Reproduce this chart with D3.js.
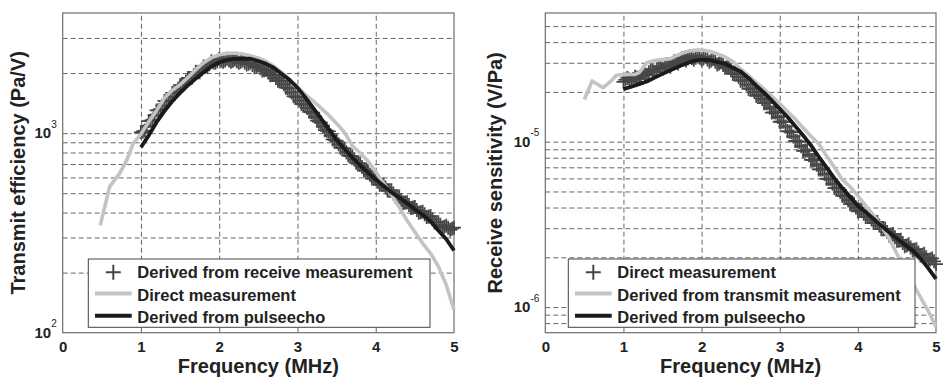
<!DOCTYPE html>
<html><head><meta charset="utf-8">
<script src="https://cdn.jsdelivr.net/npm/d3@7"></script>
<style>
body{margin:0;background:#fff}
svg{display:block}
text{font-family:"Liberation Sans",Arial,sans-serif;fill:#222}
</style>
</head><body>
<svg id="c" width="943" height="378"></svg>
<script>
// ---------- DATA ----------
const xTickLabels = ["0","1","2","3","4","5"];
const xTicks = [0,1,2,3,4,5];
const xGrid = [1,2,3,4];

// frequency samples of the "+" series (MHz), same in both panels
const recvFreq = [1.000,1.025,1.050,1.075,1.100,1.125,1.150,1.175,1.200,1.225,1.250,1.275,1.300,1.325,1.350,1.375,1.400,1.425,1.450,1.475,
  1.500,1.525,1.550,1.575,1.600,1.625,1.650,1.675,1.700,1.725,1.750,1.775,1.800,1.825,1.850,1.875,1.900,1.925,1.950,1.975,
  2.000,2.025,2.050,2.075,2.100,2.125,2.150,2.175,2.200,2.225,2.250,2.275,2.300,2.325,2.350,2.375,2.400,2.425,2.450,2.475,
  2.500,2.525,2.550,2.575,2.600,2.625,2.650,2.675,2.700,2.725,2.750,2.775,2.800,2.825,2.850,2.875,2.900,2.925,2.950,2.975,
  3.000,3.025,3.050,3.075,3.100,3.125,3.150,3.175,3.200,3.225,3.250,3.275,3.300,3.325,3.350,3.375,3.400,3.425,3.450,3.475,
  3.500,3.525,3.550,3.575,3.600,3.625,3.650,3.675,3.700,3.725,3.750,3.775,3.800,3.825,3.850,3.875,3.900,3.925,3.950,3.975,
  4.000,4.025,4.050,4.075,4.100,4.125,4.150,4.175,4.200,4.225,4.250,4.275,4.300,4.325,4.350,4.375,4.400,4.425,4.450,4.475,
  4.500,4.525,4.550,4.575,4.600,4.625,4.650,4.675,4.700,4.725,4.750,4.775,4.800,4.825,4.850,4.875,4.900,4.925,4.950,4.975,5.000];

// Left panel: Transmit efficiency (Pa/V)
const leftGridY = [200,300,400,500,600,700,800,900,1000,2000,3000];
const leftTickY = [100,1000];
const leftTickExp = ["2","3"];
const leftLegend = ["Derived from receive measurement","Direct measurement","Derived from pulseecho"];

const leftRecvVal = [1010,1020,1030,1085,1150,1155,1170,1228,1300,1302,1320,1375,1450,1445,1460,1518,1590,1592,1610,1668,
  1740,1742,1760,1815,1890,1882,1890,1950,2030,2018,2020,2085,2160,2150,2150,2212,2290,2262,2250,2290,
  2350,2305,2280,2313,2360,2313,2280,2305,2340,2292,2250,2278,2310,2258,2210,2230,2250,2198,2140,2160,
  2180,2115,2060,2065,2080,2013,1950,1956,1960,1892,1830,1828,1830,1758,1690,1680,1670,1600,1530,1522,
  1510,1455,1400,1395,1390,1335,1280,1272,1265,1208,1155,1142,1130,1082,1035,1028,1020,972,930,922,
  915,879,845,841,838,803,772,768,766,737,710,707,705,677,650,648,647,618,592,591,
  590,571,552,552,553,534,516,516,517,498,481,481,481,463,447,448,450,436,422,424,
  426,412,399,401,404,392,380,382,384,370,357,357,358,347,337,340,344,336,328,332,336];

const leftDirectFreq = [0.48,0.6,0.73,0.82,0.9,1.0,1.1,1.2,1.3,1.4,1.5,1.6,1.7,1.8,1.9,2.0,2.1,2.2,2.3,2.4,2.5,2.6,2.7,2.8,2.9,
  3.0,3.1,3.2,3.3,3.4,3.5,3.6,3.7,3.8,3.9,4.0,4.1,4.2,4.3,4.4,4.5,4.6,4.7,4.8,4.9,5.0];
const leftDirectVal = [345,540,630,735,885,990,1140,1300,1500,1640,1750,1900,2080,2250,2390,2470,2510,2520,2490,2440,2380,2290,2160,2010,1860,
  1695,1560,1450,1335,1230,1118,1010,865,795,725,640,561,492,425,365,320,280,250,215,174,130];

const leftPulseFreq = [1.0,1.1,1.2,1.3,1.4,1.5,1.6,1.7,1.8,1.9,2.0,2.1,2.2,2.3,2.4,2.5,2.6,2.7,2.8,2.9,
  3.0,3.1,3.2,3.3,3.4,3.5,3.6,3.7,3.8,3.9,4.0,4.1,4.2,4.3,4.4,4.5,4.6,4.7,4.8,4.9,5.0];
const leftPulseVal = [850,975,1135,1290,1445,1590,1735,1875,2020,2160,2260,2330,2355,2365,2360,2300,2225,2120,1980,1845,
  1690,1510,1340,1185,1045,923,835,755,690,635,585,545,505,475,445,415,390,362,325,295,258];

// Right panel: Receive sensitivity (V/Pa)
const rightGridY = [8e-7,9e-7,1e-6,2e-6,3e-6,4e-6,5e-6,6e-6,7e-6,8e-6,9e-6,1e-5,2e-5,3e-5,4e-5,5e-5];
const rightTickY = [1e-6,1e-5];
const rightTickExp = ["-6","-5"];
const rightLegend = ["Direct measurement","Derived from transmit measurement","Derived from pulseecho"];

const rightRecvVal = [2.30e-5,2.365e-5,2.43e-5,2.375e-5,2.32e-5,2.39e-5,2.47e-5,2.435e-5,2.40e-5,2.505e-5,2.61e-5,2.57e-5,2.53e-5,2.63e-5,2.74e-5,2.685e-5,2.64e-5,2.74e-5,2.85e-5,2.795e-5,
  2.75e-5,2.845e-5,2.95e-5,2.895e-5,2.84e-5,2.95e-5,3.06e-5,3.015e-5,2.97e-5,3.085e-5,3.20e-5,3.15e-5,3.10e-5,3.19e-5,3.29e-5,3.205e-5,3.13e-5,3.215e-5,3.31e-5,3.215e-5,
  3.13e-5,3.19e-5,3.26e-5,3.145e-5,3.04e-5,3.10e-5,3.17e-5,3.045e-5,2.93e-5,2.975e-5,3.02e-5,2.905e-5,2.80e-5,2.815e-5,2.84e-5,2.70e-5,2.57e-5,2.58e-5,2.59e-5,2.46e-5,
  2.34e-5,2.34e-5,2.35e-5,2.215e-5,2.09e-5,2.095e-5,2.10e-5,1.995e-5,1.89e-5,1.905e-5,1.91e-5,1.81e-5,1.71e-5,1.71e-5,1.71e-5,1.605e-5,1.50e-5,1.505e-5,1.50e-5,1.41e-5,
  1.32e-5,1.32e-5,1.32e-5,1.235e-5,1.16e-5,1.15e-5,1.14e-5,1.075e-5,1.01e-5,1.005e-5,1.00e-5,9.4e-6,8.8e-6,8.84e-6,8.84e-6,8.29e-6,7.76e-6,7.75e-6,7.72e-6,7.25e-6,
  6.8e-6,6.8e-6,6.8e-6,6.37e-6,5.97e-6,5.95e-6,5.92e-6,5.57e-6,5.24e-6,5.25e-6,5.25e-6,4.97e-6,4.71e-6,4.70e-6,4.69e-6,4.43e-6,4.19e-6,4.21e-6,4.22e-6,4.00e-6,
  3.79e-6,3.82e-6,3.86e-6,3.67e-6,3.50e-6,3.52e-6,3.55e-6,3.38e-6,3.22e-6,3.24e-6,3.27e-6,3.11e-6,2.96e-6,2.97e-6,2.98e-6,2.84e-6,2.71e-6,2.74e-6,2.77e-6,2.64e-6,
  2.52e-6,2.53e-6,2.55e-6,2.44e-6,2.33e-6,2.36e-6,2.40e-6,2.29e-6,2.20e-6,2.22e-6,2.24e-6,2.14e-6,2.05e-6,2.07e-6,2.10e-6,2.00e-6,1.92e-6,1.94e-6,1.97e-6,1.89e-6,1.82e-6];

const rightTransFreq = [0.5,0.6,0.74,0.85,0.91,1.02,1.15,1.2,1.3,1.4,1.5,1.6,1.7,1.8,1.9,2.0,2.1,2.2,2.3,2.4,2.5,2.6,2.7,2.8,2.9,
  3.0,3.1,3.2,3.3,3.4,3.5,3.6,3.7,3.8,3.9,4.0,4.1,4.2,4.3,4.4,4.5,4.6,4.7,4.8,4.9,5.0];
const rightTransVal = [1.80e-5,2.33e-5,2.12e-5,2.35e-5,2.52e-5,2.55e-5,2.55e-5,2.62e-5,3.00e-5,3.10e-5,3.14e-5,3.18e-5,3.35e-5,3.50e-5,3.57e-5,3.58e-5,3.52e-5,3.40e-5,3.25e-5,3.05e-5,2.75e-5,2.52e-5,2.28e-5,2.08e-5,1.88e-5,
  1.70e-5,1.52e-5,1.37e-5,1.21e-5,1.08e-5,9.7e-6,8.2e-6,7.0e-6,5.9e-6,5.35e-6,4.7e-6,4.1e-6,3.6e-6,3.1e-6,2.6e-6,2.1e-6,1.7e-6,1.4e-6,1.15e-6,9.5e-7,7.6e-7];

const rightPulseFreq = [1.0,1.1,1.2,1.3,1.4,1.5,1.6,1.7,1.8,1.9,2.0,2.1,2.2,2.3,2.4,2.5,2.6,2.7,2.8,2.9,
  3.0,3.1,3.2,3.3,3.4,3.5,3.6,3.7,3.8,3.9,4.0,4.1,4.2,4.3,4.4,4.5,4.6,4.7,4.8,4.9,5.0];
const rightPulseVal = [2.08e-5,2.15e-5,2.23e-5,2.31e-5,2.44e-5,2.57e-5,2.70e-5,2.84e-5,2.97e-5,3.08e-5,3.13e-5,3.11e-5,3.04e-5,2.96e-5,2.80e-5,2.66e-5,2.43e-5,2.18e-5,1.98e-5,1.77e-5,
  1.58e-5,1.41e-5,1.24e-5,1.09e-5,9.5e-6,8.1e-6,7.0e-6,6.0e-6,5.25e-6,4.65e-6,4.1e-6,3.75e-6,3.42e-6,3.1e-6,2.83e-6,2.6e-6,2.39e-6,2.2e-6,1.97e-6,1.72e-6,1.48e-6];

// ---------- DRAW ----------
const svg = d3.select("#c");
const zip = (a,b) => a.map((v,i)=>[v,b[i]]);
const C_GRAY = "#c3c3c3", C_BLACK = "#1b1b1b", C_CROSS = "#474747";
const plusPath = s => `M${-s},0H${s}M0,${-s}V${s}`;

function panel(cfg){
  const x = d3.scaleLinear().domain([0,5]).range([cfg.x0,cfg.x1]);
  const y = d3.scaleLog().domain(cfg.yDomain).range([cfg.y1,cfg.y0]);
  const g = svg.append("g");
  const H = cfg.y1 - cfg.y0, W = cfg.x1 - cfg.x0;

  g.append("g").attr("transform",`translate(0,${cfg.y1})`)
    .call(d3.axisBottom(x).tickValues(xGrid).tickSize(-H).tickFormat(""))
    .call(s=>{s.select(".domain").remove();
      s.selectAll("line").attr("stroke","#666").attr("stroke-width",1).attr("stroke-dasharray","5,3");});
  g.append("g").attr("transform",`translate(${cfg.x0},0)`)
    .call(d3.axisLeft(y).tickValues(cfg.gridY).tickSize(-W).tickFormat(""))
    .call(s=>{s.select(".domain").remove();
      s.selectAll("line").attr("stroke","#666").attr("stroke-width",1).attr("stroke-dasharray","5,3");});

  g.append("rect").attr("x",cfg.x0).attr("y",cfg.y0).attr("width",W).attr("height",H)
    .attr("fill","none").attr("stroke","#6e6e6e").attr("stroke-width",1.2);

  g.append("g").selectAll("path").data(zip(recvFreq,cfg.recvV)).join("path")
    .attr("transform",d=>`translate(${x(d[0])},${y(d[1])})`)
    .attr("d",plusPath(7)).attr("stroke",C_CROSS).attr("stroke-width",1.8).attr("fill","none");

  const line = d3.line().x(d=>x(d[0])).y(d=>y(d[1]));
  g.append("path").datum(zip(cfg.grayF,cfg.grayV)).attr("d",line)
    .attr("fill","none").attr("stroke",C_GRAY).attr("stroke-width",3.6).attr("stroke-linejoin","round");
  g.append("path").datum(zip(cfg.blackF,cfg.blackV)).attr("d",line)
    .attr("fill","none").attr("stroke",C_BLACK).attr("stroke-width",3.8).attr("stroke-linejoin","round");

  g.append("g").attr("transform",`translate(0,${cfg.y1})`)
    .call(d3.axisBottom(x).tickValues(xTicks).tickSize(0).tickFormat((d,i)=>xTickLabels[i]))
    .call(s=>{s.select(".domain").remove();
      s.selectAll("text").attr("y",19).attr("dy",null)
        .style("font-size","15px").style("font-weight","bold")
        .style("font-family","'Liberation Sans',Arial,sans-serif").attr("fill","#222");});

  cfg.tickY.forEach((v,i)=>{
    const t = g.append("text").attr("x",cfg.x0-6).attr("y",y(v)+5)
      .attr("text-anchor","end").style("font-size","15px").style("font-weight","bold");
    t.append("tspan").text("10");
    t.append("tspan").attr("dy",-10.5).style("font-size","10px").style("font-weight","normal").text(cfg.tickExp[i]);
  });

  g.append("text").attr("x",(cfg.x0+cfg.x1)/2).attr("y",372.5).attr("text-anchor","middle")
    .style("font-size","20px").style("font-weight","bold").text("Frequency (MHz)");
  g.append("text").attr("transform",`translate(${cfg.titleX},${(cfg.y0+cfg.y1)/2}) rotate(-90)`)
    .attr("text-anchor","middle").style("font-size","20px").style("font-weight","bold").text(cfg.yTitle);

  const L = g.append("g");
  L.append("rect").attr("x",cfg.legX0).attr("y",259).attr("width",cfg.legX1-cfg.legX0).attr("height",68.3)
    .attr("fill","#fff").attr("stroke","#444").attr("stroke-width",1);
  const base = [278.3,300.5,322.7];
  L.append("path").attr("transform",`translate(${cfg.legX0+25},${base[0]-6})`).attr("d",plusPath(7.5))
    .attr("stroke",C_CROSS).attr("stroke-width",2).attr("fill","none");
  L.append("line").attr("x1",cfg.legX0+6.7).attr("x2",cfg.legX0+43.4).attr("y1",base[1]-7).attr("y2",base[1]-7)
    .attr("stroke",C_GRAY).attr("stroke-width",4);
  L.append("line").attr("x1",cfg.legX0+6.7).attr("x2",cfg.legX0+43.4).attr("y1",base[2]-7).attr("y2",base[2]-7)
    .attr("stroke",C_BLACK).attr("stroke-width",4);
  cfg.legend.forEach((s,i)=>{
    L.append("text").attr("x",cfg.legX0+49).attr("y",base[i]).style("font-size","16.5px").style("font-weight","bold").text(s);
  });
}

panel({x0:62.7,x1:454,y0:13,y1:332.7,yDomain:[100,4000],gridY:leftGridY,tickY:leftTickY,tickExp:leftTickExp,
  recvV:leftRecvVal,grayF:leftDirectFreq,grayV:leftDirectVal,blackF:leftPulseFreq,blackV:leftPulseVal,
  yTitle:"Transmit efficiency (Pa/V)",titleX:24.5,legX0:88.3,legX1:430,legend:leftLegend});

panel({x0:545.3,x1:936,y0:13,y1:332.7,yDomain:[7e-7,6e-5],gridY:rightGridY,tickY:rightTickY,tickExp:rightTickExp,
  recvV:rightRecvVal,grayF:rightTransFreq,grayV:rightTransVal,blackF:rightPulseFreq,blackV:rightPulseVal,
  yTitle:"Receive sensitivity (V/Pa)",titleX:502,legX0:568.3,legX1:915,legend:rightLegend});
</script>
</body></html>
